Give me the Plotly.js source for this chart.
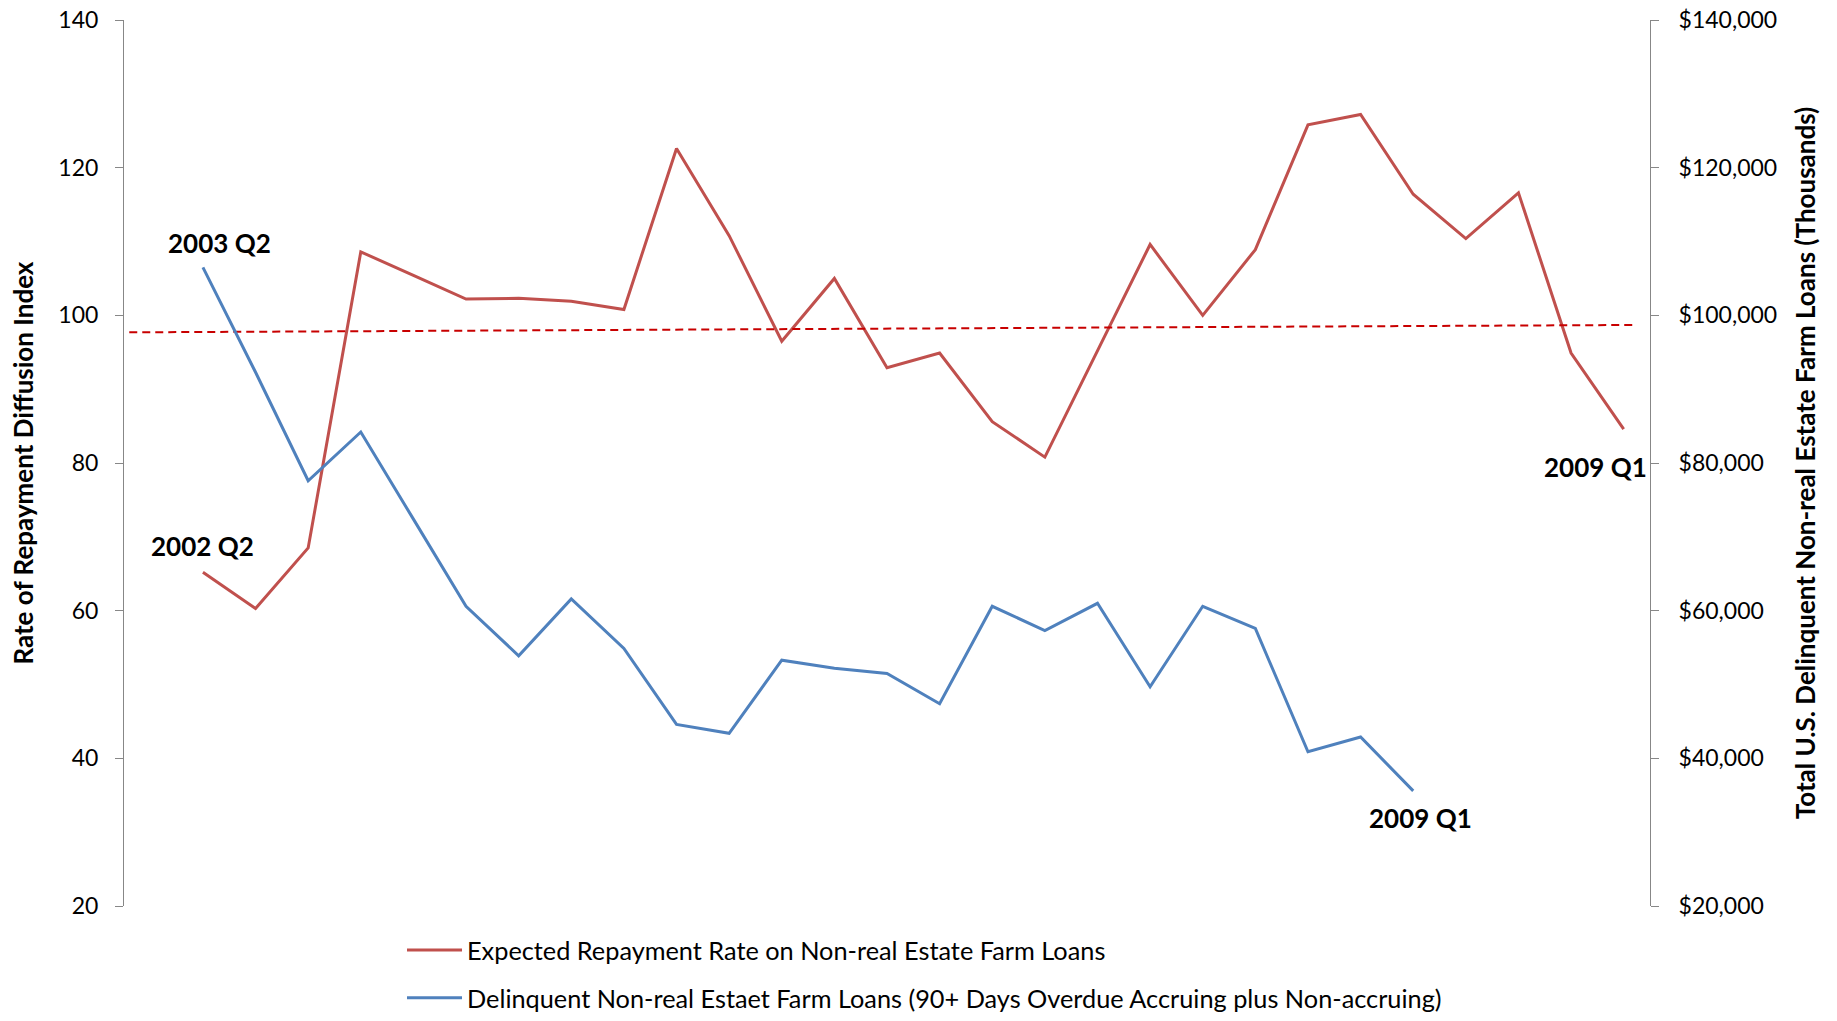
<!DOCTYPE html>
<html>
<head>
<meta charset="utf-8">
<script src="https://cdn.plot.ly/plotly-3.0.1.min.js"></script>
<style>
  html, body { margin: 0; padding: 0; background: #fff; }
  #chart { width: 1837px; height: 1021px; }
</style>
</head>
<body>
<div id="chart"></div>
<script>
// Quarters covered by each series
const repaymentQuarters = [
  "2002 Q2","2002 Q3","2002 Q4","2003 Q1","2003 Q2","2003 Q3","2003 Q4",
  "2004 Q1","2004 Q2","2004 Q3","2004 Q4","2005 Q1","2005 Q2","2005 Q3",
  "2005 Q4","2006 Q1","2006 Q2","2006 Q3","2006 Q4","2007 Q1","2007 Q2",
  "2007 Q3","2007 Q4","2008 Q1","2008 Q2","2008 Q3","2008 Q4","2009 Q1"
];
const delinquentQuarters = [
  "2003 Q2","2003 Q3","2003 Q4","2004 Q1","2004 Q2","2004 Q3","2004 Q4",
  "2005 Q1","2005 Q2","2005 Q3","2005 Q4","2006 Q1","2006 Q2","2006 Q3",
  "2006 Q4","2007 Q1","2007 Q2","2007 Q3","2007 Q4","2008 Q1","2008 Q2",
  "2008 Q3","2008 Q4","2009 Q1"
];

// Expected repayment rate diffusion index (left axis)
const repaymentIndex = [
  65.2, 60.3, 68.5, 108.6, 105.4, 102.2, 102.3, 101.9, 100.8, 122.6,
  110.8, 96.5, 105.0, 92.9, 94.9, 85.6, 80.8, 95.3, 109.6, 100.0,
  108.9, 125.8, 127.2, 116.4, 110.4, 116.6, 94.9, 84.6
];

// Delinquent non-real estate farm loans, thousands of dollars (right axis)
const delinquentLoans = [
  106500, 92300, 77600, 84200, 72400, 60600, 53900, 61600, 54900, 44600,
  43400, 53300, 52200, 51500, 47400, 60600, 57300, 61000, 49700, 60600,
  57600, 40900, 42900, 35600
];

// Linear trend of the repayment index (end points, category positions)
const trendPositions = [-1.4, 27.2];
const trendValues = [97.7, 98.7];

const seriesNames = [
  "Expected Repayment Rate on Non-real Estate Farm Loans",
  "Delinquent Non-real Estaet Farm Loans (90+ Days Overdue Accruing plus Non-accruing)"
];
const leftTitle = "Rate of Repayment Diffusion Index";
const rightTitle = "Total U.S. Delinquent Non-real Estate Farm Loans (Thousands)";

const FONT = "Lato, 'Open Sans', sans-serif";
const AXIS_GREY = "#878787";
const RED = "#C0504D";
const BLUE = "#4F81BD";

const repaymentX = repaymentIndex.map((_, i) => i);
const delinquentX = delinquentLoans.map((_, i) => i);

const traces = [
  {
    x: repaymentX, y: repaymentIndex, text: repaymentQuarters,
    type: "scatter", mode: "lines", name: seriesNames[0],
    line: { color: RED, width: 3 }, yaxis: "y",
    legendgroup: "a", hovertemplate: "%{text}: %{y}<extra></extra>"
  },
  {
    x: delinquentX, y: delinquentLoans, text: delinquentQuarters,
    type: "scatter", mode: "lines", name: seriesNames[1],
    line: { color: BLUE, width: 3 }, yaxis: "y2",
    legendgroup: "b", hovertemplate: "%{text}: $%{y:,}<extra></extra>"
  },
  {
    x: trendPositions, y: trendValues,
    type: "scatter", mode: "lines", showlegend: false, hoverinfo: "skip",
    line: { color: "#C80000", width: 2, dash: "8px,5px" }, yaxis: "y"
  }
];

const last = repaymentIndex.length - 1;
const lastD = delinquentLoans.length - 1;
const labelFont = { family: FONT, size: 26, color: "#000", weight: "bold" };
const tickFont = { family: FONT, size: 23, color: "#000" };
const titleFont = { family: FONT, size: 26, color: "#000", weight: "bold" };

// The plot area spans 19.5px .. 906px; the bottom margin is zero and the
// legend is anchored to the bottom edge of the paper.
const H = 1021, TOP = 19.5, PLOT_BOTTOM = 906;
const paperH = H - TOP;
const domainLow = (H - PLOT_BOTTOM) / paperH;

const layout = {
  width: 1837, height: 1021,
  paper_bgcolor: "#fff", plot_bgcolor: "#fff",
  margin: { l: 123.5, r: 187, t: TOP, b: 0, pad: 0 },
  font: { family: FONT, size: 22, color: "#000" },
  showlegend: true,
  legend: {
    x: (401.6 - 123.5) / (1837 - 123.5 - 187), xanchor: "left",
    y: 0, yanchor: "bottom",
    orientation: "v", traceorder: "grouped", tracegroupgap: 12,
    itemwidth: 55, bgcolor: "rgba(0,0,0,0)",
    font: { family: FONT, size: 25.3, color: "#000" }
  },
  xaxis: {
    range: [-1.5, 27.5], visible: false, showgrid: false, zeroline: false, fixedrange: true
  },
  yaxis: {
    domain: [domainLow, 1],
    range: [20, 140], dtick: 20, tick0: 20,
    showline: true, linecolor: AXIS_GREY, linewidth: 1,
    ticks: "outside", ticklen: 8, tickcolor: AXIS_GREY, tickwidth: 1,
    showgrid: false, zeroline: false, ticklabelstandoff: 12,
    tickfont: tickFont,
    title: { text: leftTitle, standoff: 17, font: titleFont }
  },
  yaxis2: {
    overlaying: "y", side: "right",
    range: [20000, 140000], dtick: 20000, tick0: 20000,
    tickprefix: "$", tickformat: ",d",
    showline: true, linecolor: AXIS_GREY, linewidth: 1,
    ticks: "outside", ticklen: 8, tickcolor: AXIS_GREY, tickwidth: 1,
    showgrid: false, zeroline: false, ticklabelstandoff: 15,
    tickfont: tickFont,
    title: { text: rightTitle, standoff: 20, font: titleFont }
  },
  annotations: [
    { x: delinquentX[0], y: delinquentLoans[0], xref: "x", yref: "y2",
      text: delinquentQuarters[0], showarrow: false, xshift: 17, yshift: 24, font: labelFont },
    { x: repaymentX[0], y: repaymentIndex[0], xref: "x", yref: "y",
      text: repaymentQuarters[0], showarrow: false, xshift: 0, yshift: 26, font: labelFont },
    { x: repaymentX[last], y: repaymentIndex[last], xref: "x", yref: "y",
      text: repaymentQuarters[last], showarrow: false, xshift: -28, yshift: -38, font: labelFont },
    { x: delinquentX[lastD], y: delinquentLoans[lastD], xref: "x", yref: "y2",
      text: delinquentQuarters[lastD], showarrow: false, xshift: 7, yshift: -27, font: labelFont }
  ]
};

Plotly.newPlot("chart", traces, layout, { displayModeBar: false, responsive: false });
</script>
</body>
</html>
